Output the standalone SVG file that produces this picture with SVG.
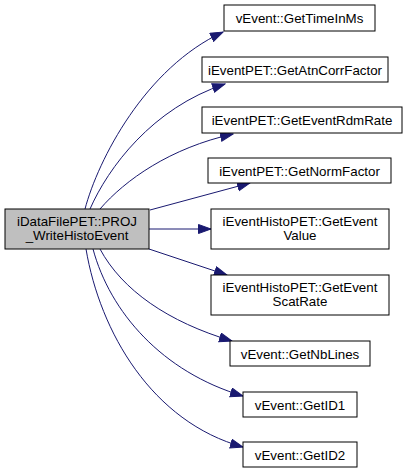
<svg xmlns="http://www.w3.org/2000/svg" width="408" height="473" viewBox="0 0 408 473">
<style>
.n rect{fill:#ffffff;stroke:#000000;stroke-width:1}
.n.main rect{fill:#bfbfbf}
.n text{font-family:"Liberation Sans",Arial,Helvetica,sans-serif;font-size:13.33px;fill:#000000;text-anchor:middle}
.e path{fill:none;stroke:#191970;stroke-width:1;marker-end:url(#ah)}
</style>
<defs>
<marker id="ah" markerWidth="14" markerHeight="11" refX="13" refY="5" orient="auto" markerUnits="userSpaceOnUse">
<path d="M0.5,0.5 L13,5 L0.5,9.5 z" fill="#191970" stroke="#191970" stroke-width="1"/>
</marker>
</defs>
<rect width="408" height="473" fill="#ffffff"/>
<g id="edges" class="e">
<path d="M85,209 C98,160 145,68 223,32"/>
<path d="M90,209 C108,168 152,108 225,84"/>
<path d="M100,209 C125,180 170,148 233,134"/>
<path d="M150,210 L250,183"/>
<path d="M149,229 L211,229"/>
<path d="M149,249 L227,275"/>
<path d="M100,249 C122,290 168,322 232,341"/>
<path d="M93,249 C110,312 162,372 243,396"/>
<path d="M86,249 C100,332 152,422 243,447"/>
</g>
<g id="node_main" class="n main"><rect x="5" y="209" width="144" height="40"/><text x="77" y="226">iDataFilePET::PROJ</text><text x="77" y="240">_WriteHistoEvent</text></g>
<g id="node_GetTimeInMs" class="n"><rect x="224" y="5" width="151" height="26"/><text x="299.5" y="23">vEvent::GetTimeInMs</text></g>
<g id="node_GetAtnCorrFactor" class="n"><rect x="202" y="57" width="186" height="25"/><text x="295" y="74.5">iEventPET::GetAtnCorrFactor</text></g>
<g id="node_GetEventRdmRate" class="n"><rect x="202" y="107" width="200" height="26"/><text x="302" y="125">iEventPET::GetEventRdmRate</text></g>
<g id="node_GetNormFactor" class="n"><rect x="208" y="158" width="183" height="25"/><text x="299.5" y="175.5">iEventPET::GetNormFactor</text></g>
<g id="node_GetEventValue" class="n"><rect x="211" y="209" width="178" height="40"/><text x="300" y="226">iEventHistoPET::GetEvent</text><text x="300" y="240">Value</text></g>
<g id="node_GetEventScatRate" class="n"><rect x="211" y="275" width="178" height="40"/><text x="300" y="292">iEventHistoPET::GetEvent</text><text x="300" y="306">ScatRate</text></g>
<g id="node_GetNbLines" class="n"><rect x="230" y="341" width="140" height="25"/><text x="300" y="358.5">vEvent::GetNbLines</text></g>
<g id="node_GetID1" class="n"><rect x="243" y="392" width="114" height="25"/><text x="300" y="409.5">vEvent::GetID1</text></g>
<g id="node_GetID2" class="n"><rect x="243" y="442" width="114" height="25"/><text x="300" y="459.5">vEvent::GetID2</text></g>
</svg>
